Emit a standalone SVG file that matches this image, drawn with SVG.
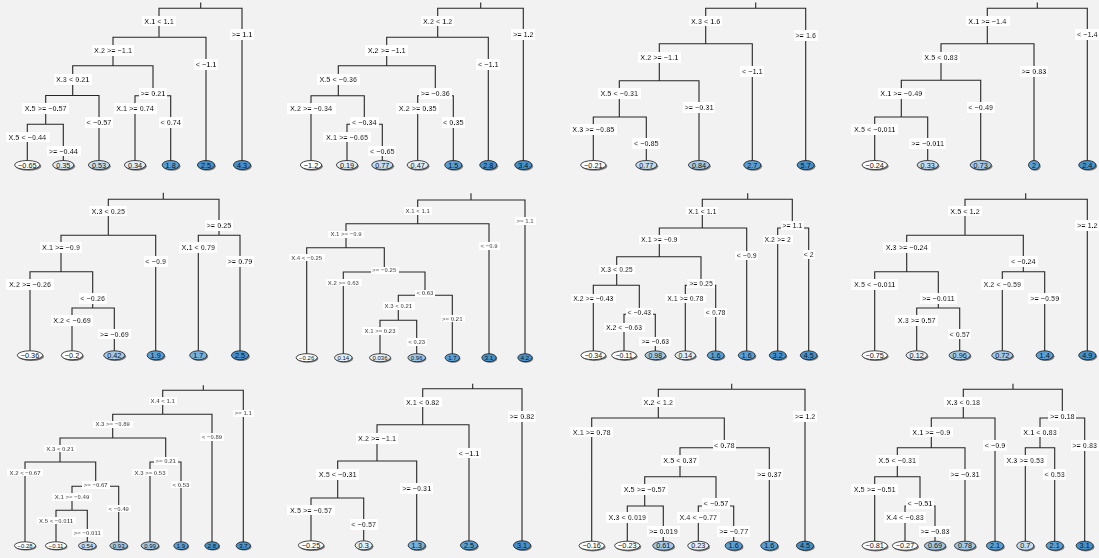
<svg xmlns="http://www.w3.org/2000/svg" width="1099" height="558" viewBox="0 0 1099 558">
<defs>
<filter id="bg" x="-0.05" y="-0.04" width="1.1" height="1.08"><feFlood flood-color="#fff"/><feComposite in="SourceGraphic"/></filter>
<style>
.e{fill:none;stroke:#262626;stroke-width:1.1}
.l{font-family:"Liberation Sans",Arial,sans-serif;font-weight:bold;font-size:7.3px;text-anchor:middle;dominant-baseline:central;fill:#111;filter:url(#bg)}
.s{font-size:6px}
.m{font-size:7px}
.sh{fill:#7a7a7a}
.k{stroke:#1a1a1a;stroke-width:.8}
.v{font-family:"Liberation Sans",Arial,sans-serif;font-size:7.3px;text-anchor:middle;dominant-baseline:central;fill:#111}
.vs{font-size:6px}
.vm{font-size:7px}
.w{fill:#fff}.a{fill:#e4eef7}.b{fill:#c6dcef}.c{fill:#a3c8e6}.d{fill:#78b0dc}.f{fill:#5a9fd4}.g{fill:#4690ca}
</style>
</defs>
<rect width="1099" height="558" fill="#f2f2f2"/>

<g id="connectors">
<path class="e" d="M200.7,2.5V8.3 M159,37.3V8.3H242V165 M113,65.7V37.3H206V165 M72.7,95.5V65.7H153V95.7 M45.7,124.3V95.5H99V165 M27.3,165V124.3H63.3V165 M135,165V95.7H170.7V165"/>
<path class="e" d="M480.7,2.5V8.3 M437.7,37.3V8.3H523.3V165 M386.7,65.7V37.3H488.3V165 M338.3,95.7V65.7H435.3V95.7 M311,165V95.7H364.3V124.3 M347,165V124.3H382.3V165 M417.7,165V95.7H453.3V165"/>
<path class="e" d="M755.7,2.5V8.3 M705.7,43.7V8.3H805.7V165 M659.3,80.7V43.7H752.3V165 M619.3,117V80.7H699V165 M593.3,165V117H646.3V165"/>
<path class="e" d="M1037.3,2.5V8.3 M987.3,43.7V8.3H1087.3V165 M941,80.3V43.7H1034V165 M901.3,117V80.3H980.7V165 M874.7,165V117H927.7V165"/>
<path class="e" d="M163.3,192.7V199.3 M108.3,235.3V199.3H219V235.3 M61,271.7V235.3H155.7V355.3 M198.3,355.3V235.3H240V355.3 M30,355.3V271.7H92.7V308 M72,355.3V308H114.3V355.3"/>
<path class="e" d="M471,193.3V200 M417.7,223.7V200H525V357.7 M346,247.7V223.7H489V357.7 M306.7,357.7V247.7H384.3V272 M343.3,357.7V272H425V295.3 M398.3,320.3V295.3H452.3V357.7 M380,357.7V320.3H416.7V357.7"/>
<path class="e" d="M747.7,193.3V199.3 M702.3,228V199.3H792.3V228 M659.3,256.7V228H746.7V355.3 M777.7,355.3V228H808.7V355.3 M616.7,285.3V256.7H701V285.3 M593.3,355.3V285.3H639.3V314.3 M624,355.3V314.3H655.3V355.3 M685.3,355.3V285.3H715.7V355.3"/>
<path class="e" d="M1025.7,193.3V199.3 M965,235.3V199.3H1087.3V355.3 M906.7,271.7V235.3H1023.3V271.7 M874.7,355.3V271.7H938.3V308 M916.7,355.3V308H959.7V355.3 M1002.3,355.3V271.7H1044.7V355.3"/>
<path class="e" d="M203.3,385.3V390.3 M162.7,414.3V390.3H243.3V545.7 M112.7,438V414.3H212V545.7 M60,462V438H165.7V462 M25,545.7V462H95.7V486.3 M72,510.3V486.3H118.7V545.7 M56,545.7V510.3H87.3V545.7 M150,545.7V462H181V545.7"/>
<path class="e" d="M472.7,383.7V388.7 M422.7,424.7V388.7H522V545.3 M377,461V424.7H469V545.3 M337.7,498V461H416.7V545.3 M311,545.3V498H363.7V545.3"/>
<path class="e" d="M731.7,383.7V389.3 M658.3,418V389.3H805V545.7 M591.7,545.7V418H724.3V447.7 M680,476.7V447.7H769.3V545.7 M644.7,506V476.7H716V506 M627.3,545.7V506H663.3V545.7 M698.3,545.7V506H733.7V545.7"/>
<path class="e" d="M1013,383.7V389.3 M963.3,418V389.3H1062.3V418 M931.3,447.7V418H995V545.7 M1040,447.7V418H1084.7V545.7 M897.3,476.7V447.7H965V545.7 M1025.3,545.7V447.7H1054.7V545.7 M874.7,545.7V476.7H920V506 M905,545.7V506H935V545.7"/>
</g>

<g id="t1-splits">
<text class="l" x="159" y="21">X.1 &lt; 1.1</text><text class="l" x="242" y="34.7">&gt;= 1.1</text>
<text class="l" x="113" y="50.7">X.2 &gt;= −1.1</text><text class="l" x="206" y="64.3">&lt; −1.1</text>
<text class="l" x="72.7" y="79.7">X.3 &lt; 0.21</text><text class="l" x="153" y="93.7">&gt;= 0.21</text>
<text class="l" x="45.7" y="108.7">X.5 &gt;= −0.57</text><text class="l" x="99" y="122.3">&lt; −0.57</text>
<text class="l" x="27.3" y="137">X.5 &lt; −0.44</text><text class="l" x="63.3" y="151">&gt;= −0.44</text>
<text class="l" x="135" y="108.7">X.1 &gt;= 0.74</text><text class="l" x="170.7" y="122.3">&lt; 0.74</text>
</g>
<g id="t1-leaves">
<g id="t1-l1" transform="translate(27.3,165)"><ellipse class="sh" cx="1.2" cy="1.2" rx="12.7" ry="4.5"/><ellipse class="k w" rx="12.7" ry="4.5"/><text class="v">−0.65</text></g>
<g id="t1-l2" transform="translate(63.3,165)"><ellipse class="sh" cx="1.2" cy="1.2" rx="10.6" ry="4.5"/><ellipse class="k a" rx="10.6" ry="4.5"/><text class="v">0.35</text></g>
<g id="t1-l3" transform="translate(99,165)"><ellipse class="sh" cx="1.2" cy="1.2" rx="10.6" ry="4.5"/><ellipse class="k b" rx="10.6" ry="4.5"/><text class="v">0.53</text></g>
<g id="t1-l4" transform="translate(135,165)"><ellipse class="sh" cx="1.2" cy="1.2" rx="10.6" ry="4.5"/><ellipse class="k a" rx="10.6" ry="4.5"/><text class="v">0.34</text></g>
<g id="t1-l5" transform="translate(170.7,165)"><ellipse class="sh" cx="1.2" cy="1.2" rx="8.6" ry="4.5"/><ellipse class="k f" rx="8.6" ry="4.5"/><text class="v">1.8</text></g>
<g id="t1-l6" transform="translate(206,165)"><ellipse class="sh" cx="1.2" cy="1.2" rx="8.6" ry="4.5"/><ellipse class="k g" rx="8.6" ry="4.5"/><text class="v">2.5</text></g>
<g id="t1-l7" transform="translate(242,165)"><ellipse class="sh" cx="1.2" cy="1.2" rx="8.6" ry="4.5"/><ellipse class="k g" rx="8.6" ry="4.5"/><text class="v">4.3</text></g>
</g>

<g id="t2-splits">
<text class="l" x="437.7" y="21">X.2 &lt; 1.2</text><text class="l" x="523.3" y="34.7">&gt;= 1.2</text>
<text class="l" x="386.7" y="50.7">X.2 &gt;= −1.1</text><text class="l" x="488.3" y="64.3">&lt; −1.1</text>
<text class="l" x="338.3" y="79.7">X.5 &lt; −0.36</text><text class="l" x="435.3" y="93.7">&gt;= −0.36</text>
<text class="l" x="311" y="108.7">X.2 &gt;= −0.34</text><text class="l" x="364.3" y="122.3">&lt; −0.34</text>
<text class="l" x="347" y="137">X.1 &gt;= −0.65</text><text class="l" x="382.3" y="151">&lt; −0.65</text>
<text class="l" x="417.7" y="108.7">X.2 &gt;= 0.35</text><text class="l" x="453.3" y="122.3">&lt; 0.35</text>
</g>
<g id="t2-leaves">
<g id="t2-l1" transform="translate(311,165)"><ellipse class="sh" cx="1.2" cy="1.2" rx="10.7" ry="4.5"/><ellipse class="k w" rx="10.7" ry="4.5"/><text class="v">−1.2</text></g>
<g id="t2-l2" transform="translate(347,165)"><ellipse class="sh" cx="1.2" cy="1.2" rx="10.6" ry="4.5"/><ellipse class="k a" rx="10.6" ry="4.5"/><text class="v">0.19</text></g>
<g id="t2-l3" transform="translate(382.3,165)"><ellipse class="sh" cx="1.2" cy="1.2" rx="10.6" ry="4.5"/><ellipse class="k b" rx="10.6" ry="4.5"/><text class="v">0.77</text></g>
<g id="t2-l4" transform="translate(417.7,165)"><ellipse class="sh" cx="1.2" cy="1.2" rx="10.6" ry="4.5"/><ellipse class="k a" rx="10.6" ry="4.5"/><text class="v">0.47</text></g>
<g id="t2-l5" transform="translate(453.3,165)"><ellipse class="sh" cx="1.2" cy="1.2" rx="8.6" ry="4.5"/><ellipse class="k f" rx="8.6" ry="4.5"/><text class="v">1.5</text></g>
<g id="t2-l6" transform="translate(488.3,165)"><ellipse class="sh" cx="1.2" cy="1.2" rx="8.6" ry="4.5"/><ellipse class="k g" rx="8.6" ry="4.5"/><text class="v">2.8</text></g>
<g id="t2-l7" transform="translate(523.3,165)"><ellipse class="sh" cx="1.2" cy="1.2" rx="8.6" ry="4.5"/><ellipse class="k g" rx="8.6" ry="4.5"/><text class="v">3.4</text></g>
</g>

<g id="t3-splits">
<text class="l" x="705.7" y="21">X.3 &lt; 1.6</text><text class="l" x="805.7" y="35.7">&gt;= 1.6</text>
<text class="l" x="659.3" y="57.3">X.2 &gt;= −1.1</text><text class="l" x="752.3" y="71.7">&lt; −1.1</text>
<text class="l" x="619.3" y="93.3">X.5 &lt; −0.31</text><text class="l" x="699" y="107.7">&gt;= −0.31</text>
<text class="l" x="593.3" y="129.3">X.3 &gt;= −0.85</text><text class="l" x="646.3" y="143.7">&lt; −0.85</text>
</g>
<g id="t3-leaves">
<g id="t3-l1" transform="translate(593.3,165)"><ellipse class="sh" cx="1.2" cy="1.2" rx="12.7" ry="4.5"/><ellipse class="k w" rx="12.7" ry="4.5"/><text class="v">−0.21</text></g>
<g id="t3-l2" transform="translate(646.3,165)"><ellipse class="sh" cx="1.2" cy="1.2" rx="10.6" ry="4.5"/><ellipse class="k b" rx="10.6" ry="4.5"/><text class="v">0.77</text></g>
<g id="t3-l3" transform="translate(699,165)"><ellipse class="sh" cx="1.2" cy="1.2" rx="10.6" ry="4.5"/><ellipse class="k c" rx="10.6" ry="4.5"/><text class="v">0.84</text></g>
<g id="t3-l4" transform="translate(752.3,165)"><ellipse class="sh" cx="1.2" cy="1.2" rx="8.6" ry="4.5"/><ellipse class="k f" rx="8.6" ry="4.5"/><text class="v">2.7</text></g>
<g id="t3-l5" transform="translate(805.7,165)"><ellipse class="sh" cx="1.2" cy="1.2" rx="8.6" ry="4.5"/><ellipse class="k g" rx="8.6" ry="4.5"/><text class="v">5.7</text></g>
</g>

<g id="t4-splits">
<text class="l" x="987.3" y="21">X.1 &gt;= −1.4</text><text class="l" x="1087.3" y="34.7">&lt; −1.4</text>
<text class="l" x="941" y="57.3">X.5 &lt; 0.83</text><text class="l" x="1034" y="71.3">&gt;= 0.83</text>
<text class="l" x="901.3" y="93.3">X.1 &gt;= −0.49</text><text class="l" x="980.7" y="107.3">&lt; −0.49</text>
<text class="l" x="874.7" y="129.3">X.5 &lt; −0.011</text><text class="l" x="927.7" y="143.7">&gt;= −0.011</text>
</g>
<g id="t4-leaves">
<g id="t4-l1" transform="translate(874.7,165)"><ellipse class="sh" cx="1.2" cy="1.2" rx="12.7" ry="4.5"/><ellipse class="k w" rx="12.7" ry="4.5"/><text class="v">−0.24</text></g>
<g id="t4-l2" transform="translate(927.7,165)"><ellipse class="sh" cx="1.2" cy="1.2" rx="10.6" ry="4.5"/><ellipse class="k b" rx="10.6" ry="4.5"/><text class="v">0.33</text></g>
<g id="t4-l3" transform="translate(980.7,165)"><ellipse class="sh" cx="1.2" cy="1.2" rx="10.6" ry="4.5"/><ellipse class="k c" rx="10.6" ry="4.5"/><text class="v">0.73</text></g>
<g id="t4-l4" transform="translate(1034,165)"><ellipse class="sh" cx="1.2" cy="1.2" rx="5.5" ry="4.5"/><ellipse class="k f" rx="5.5" ry="4.5"/><text class="v">2</text></g>
<g id="t4-l5" transform="translate(1087.3,165)"><ellipse class="sh" cx="1.2" cy="1.2" rx="8.6" ry="4.5"/><ellipse class="k g" rx="8.6" ry="4.5"/><text class="v">2.4</text></g>
</g>

<g id="t5-splits">
<text class="l" x="108.3" y="211">X.3 &lt; 0.25</text><text class="l" x="219" y="225.3">&gt;= 0.25</text>
<text class="l" x="61" y="247.3">X.1 &gt;= −0.9</text><text class="l" x="155.7" y="261.3">&lt; −0.9</text>
<text class="l" x="198.3" y="247.3">X.1 &lt; 0.79</text><text class="l" x="240" y="261.3">&gt;= 0.79</text>
<text class="l" x="30" y="284.7">X.2 &gt;= −0.26</text><text class="l" x="92.7" y="298.3">&lt; −0.26</text>
<text class="l" x="72" y="320.7">X.2 &lt; −0.69</text><text class="l" x="114.3" y="334">&gt;= −0.69</text>
</g>
<g id="t5-leaves">
<g id="t5-l1" transform="translate(30,355.3)"><ellipse class="sh" cx="1.2" cy="1.2" rx="12.7" ry="4.5"/><ellipse class="k w" rx="12.7" ry="4.5"/><text class="v">−0.36</text></g>
<g id="t5-l2" transform="translate(72,355.3)"><ellipse class="sh" cx="1.2" cy="1.2" rx="10.7" ry="4.5"/><ellipse class="k w" rx="10.7" ry="4.5"/><text class="v">−0.2</text></g>
<g id="t5-l3" transform="translate(114.3,355.3)"><ellipse class="sh" cx="1.2" cy="1.2" rx="10.6" ry="4.5"/><ellipse class="k c" rx="10.6" ry="4.5"/><text class="v">0.42</text></g>
<g id="t5-l4" transform="translate(155.7,355.3)"><ellipse class="sh" cx="1.2" cy="1.2" rx="8.6" ry="4.5"/><ellipse class="k f" rx="8.6" ry="4.5"/><text class="v">1.9</text></g>
<g id="t5-l5" transform="translate(198.3,355.3)"><ellipse class="sh" cx="1.2" cy="1.2" rx="8.6" ry="4.5"/><ellipse class="k d" rx="8.6" ry="4.5"/><text class="v">1.7</text></g>
<g id="t5-l6" transform="translate(240,355.3)"><ellipse class="sh" cx="1.2" cy="1.2" rx="8.6" ry="4.5"/><ellipse class="k g" rx="8.6" ry="4.5"/><text class="v">2.5</text></g>
</g>

<g id="t6-splits">
<text class="l s" x="417.7" y="211">X.1 &lt; 1.1</text><text class="l s" x="525" y="221">&gt;= 1.1</text>
<text class="l s" x="346" y="234.3">X.1 &gt;= −0.9</text><text class="l s" x="489" y="246">&lt; −0.9</text>
<text class="l s" x="306.7" y="257.7">X.4 &lt; −0.25</text><text class="l s" x="384.3" y="270.3">&gt;= −0.25</text>
<text class="l s" x="343.3" y="282.7">X.2 &gt;= 0.63</text><text class="l s" x="425" y="293.3">&lt; 0.63</text>
<text class="l s" x="398.3" y="306">X.3 &lt; 0.21</text><text class="l s" x="452.3" y="318.7">&gt;= 0.21</text>
<text class="l s" x="380" y="331">X.1 &gt;= 0.23</text><text class="l s" x="416.7" y="342">&lt; 0.23</text>
</g>
<g id="t6-leaves">
<g id="t6-l1" transform="translate(306.7,357.7)"><ellipse class="sh" cx="1" cy="1" rx="10.6" ry="4"/><ellipse class="k w" rx="10.6" ry="4"/><text class="v vs">−0.26</text></g>
<g id="t6-l2" transform="translate(343.3,357.7)"><ellipse class="sh" cx="1" cy="1" rx="8.8" ry="4"/><ellipse class="k a" rx="8.8" ry="4"/><text class="v vs">0.14</text></g>
<g id="t6-l3" transform="translate(380,357.7)"><ellipse class="sh" cx="1" cy="1" rx="10.5" ry="4"/><ellipse class="k a" rx="10.5" ry="4"/><text class="v vs">0.036</text></g>
<g id="t6-l4" transform="translate(416.7,357.7)"><ellipse class="sh" cx="1" cy="1" rx="8.8" ry="4"/><ellipse class="k c" rx="8.8" ry="4"/><text class="v vs">0.96</text></g>
<g id="t6-l5" transform="translate(452.3,357.7)"><ellipse class="sh" cx="1" cy="1" rx="7.2" ry="4"/><ellipse class="k f" rx="7.2" ry="4"/><text class="v vs">1.7</text></g>
<g id="t6-l6" transform="translate(489,357.7)"><ellipse class="sh" cx="1" cy="1" rx="7.2" ry="4"/><ellipse class="k g" rx="7.2" ry="4"/><text class="v vs">3.1</text></g>
<g id="t6-l7" transform="translate(525,357.7)"><ellipse class="sh" cx="1" cy="1" rx="7.2" ry="4"/><ellipse class="k g" rx="7.2" ry="4"/><text class="v vs">4.2</text></g>
</g>

<g id="t7-splits">
<text class="l m" x="702.3" y="211">X.1 &lt; 1.1</text><text class="l m" x="792.3" y="225.3">&gt;= 1.1</text>
<text class="l m" x="659.3" y="239.3">X.1 &gt;= −0.9</text><text class="l m" x="746.7" y="255.3">&lt; −0.9</text>
<text class="l m" x="777.7" y="239.3">X.2 &gt;= 2</text><text class="l m" x="808.7" y="254.3">&lt; 2</text>
<text class="l m" x="616.7" y="269.3">X.3 &lt; 0.25</text><text class="l m" x="701" y="283.7">&gt;= 0.25</text>
<text class="l m" x="593.3" y="298.3">X.2 &gt;= −0.43</text><text class="l m" x="639.3" y="312.7">&lt; −0.43</text>
<text class="l m" x="624" y="327.3">X.2 &lt; −0.63</text><text class="l m" x="655.3" y="341.7">&gt;= −0.63</text>
<text class="l m" x="685.3" y="298.3">X.1 &gt;= 0.78</text><text class="l m" x="715.7" y="312.7">&lt; 0.78</text>
</g>
<g id="t7-leaves">
<g id="t7-l1" transform="translate(593.3,355.3)"><ellipse class="sh" cx="1.2" cy="1.2" rx="12.4" ry="4.4"/><ellipse class="k w" rx="12.4" ry="4.4"/><text class="v vm">−0.34</text></g>
<g id="t7-l2" transform="translate(624,355.3)"><ellipse class="sh" cx="1.2" cy="1.2" rx="12.4" ry="4.4"/><ellipse class="k w" rx="12.4" ry="4.4"/><text class="v vm">−0.11</text></g>
<g id="t7-l3" transform="translate(655.3,355.3)"><ellipse class="sh" cx="1.2" cy="1.2" rx="10.3" ry="4.4"/><ellipse class="k c" rx="10.3" ry="4.4"/><text class="v vm">0.98</text></g>
<g id="t7-l4" transform="translate(685.3,355.3)"><ellipse class="sh" cx="1.2" cy="1.2" rx="10.3" ry="4.4"/><ellipse class="k a" rx="10.3" ry="4.4"/><text class="v vm">0.14</text></g>
<g id="t7-l5" transform="translate(715.7,355.3)"><ellipse class="sh" cx="1.2" cy="1.2" rx="8.4" ry="4.4"/><ellipse class="k f" rx="8.4" ry="4.4"/><text class="v vm">1.6</text></g>
<g id="t7-l6" transform="translate(746.7,355.3)"><ellipse class="sh" cx="1.2" cy="1.2" rx="8.4" ry="4.4"/><ellipse class="k f" rx="8.4" ry="4.4"/><text class="v vm">1.6</text></g>
<g id="t7-l7" transform="translate(777.7,355.3)"><ellipse class="sh" cx="1.2" cy="1.2" rx="8.4" ry="4.4"/><ellipse class="k g" rx="8.4" ry="4.4"/><text class="v vm">3.2</text></g>
<g id="t7-l8" transform="translate(808.7,355.3)"><ellipse class="sh" cx="1.2" cy="1.2" rx="8.4" ry="4.4"/><ellipse class="k g" rx="8.4" ry="4.4"/><text class="v vm">4.5</text></g>
</g>

<g id="t8-splits">
<text class="l" x="965" y="211">X.5 &lt; 1.2</text><text class="l" x="1087.3" y="225.3">&gt;= 1.2</text>
<text class="l" x="906.7" y="247.3">X.3 &gt;= −0.24</text><text class="l" x="1023.3" y="261.3">&lt; −0.24</text>
<text class="l" x="874.7" y="284.7">X.5 &lt; −0.011</text><text class="l" x="938.3" y="298.3">&gt;= −0.011</text>
<text class="l" x="916.7" y="320.7">X.3 &gt;= 0.57</text><text class="l" x="959.7" y="334">&lt; 0.57</text>
<text class="l" x="1002.3" y="284.7">X.2 &lt; −0.59</text><text class="l" x="1044.7" y="298.3">&gt;= −0.59</text>
</g>
<g id="t8-leaves">
<g id="t8-l1" transform="translate(874.7,355.3)"><ellipse class="sh" cx="1.2" cy="1.2" rx="12.7" ry="4.5"/><ellipse class="k w" rx="12.7" ry="4.5"/><text class="v">−0.75</text></g>
<g id="t8-l2" transform="translate(916.7,355.3)"><ellipse class="sh" cx="1.2" cy="1.2" rx="10.6" ry="4.5"/><ellipse class="k a" rx="10.6" ry="4.5"/><text class="v">0.12</text></g>
<g id="t8-l3" transform="translate(959.7,355.3)"><ellipse class="sh" cx="1.2" cy="1.2" rx="10.6" ry="4.5"/><ellipse class="k c" rx="10.6" ry="4.5"/><text class="v">0.96</text></g>
<g id="t8-l4" transform="translate(1002.3,355.3)"><ellipse class="sh" cx="1.2" cy="1.2" rx="10.6" ry="4.5"/><ellipse class="k c" rx="10.6" ry="4.5"/><text class="v">0.72</text></g>
<g id="t8-l5" transform="translate(1044.7,355.3)"><ellipse class="sh" cx="1.2" cy="1.2" rx="8.6" ry="4.5"/><ellipse class="k f" rx="8.6" ry="4.5"/><text class="v">1.4</text></g>
<g id="t8-l6" transform="translate(1087.3,355.3)"><ellipse class="sh" cx="1.2" cy="1.2" rx="8.6" ry="4.5"/><ellipse class="k g" rx="8.6" ry="4.5"/><text class="v">4.9</text></g>
</g>

<g id="t9-splits">
<text class="l s" x="162.7" y="401">X.4 &lt; 1.1</text><text class="l s" x="243.3" y="413.3">&gt;= 1.1</text>
<text class="l s" x="112.7" y="424.3">X.3 &gt;= −0.89</text><text class="l s" x="212" y="437">&lt; −0.89</text>
<text class="l s" x="60" y="448.7">X.3 &lt; 0.21</text><text class="l s" x="165.7" y="461">&gt;= 0.21</text>
<text class="l s" x="25" y="472.7">X.2 &lt; −0.67</text><text class="l s" x="95.7" y="485">&gt;= −0.67</text>
<text class="l s" x="72" y="497">X.1 &gt;= −0.49</text><text class="l s" x="118.7" y="508.7">&lt; −0.49</text>
<text class="l s" x="56" y="520.7">X.5 &lt; −0.011</text><text class="l s" x="87.3" y="533">&gt;= −0.011</text>
<text class="l s" x="150" y="472.7">X.3 &gt;= 0.53</text><text class="l s" x="181" y="484.7">&lt; 0.53</text>
</g>
<g id="t9-leaves">
<g id="t9-l1" transform="translate(25,545.7)"><ellipse class="sh" cx="1" cy="1" rx="10.6" ry="3.9"/><ellipse class="k w" rx="10.6" ry="3.9"/><text class="v vs">−0.28</text></g>
<g id="t9-l2" transform="translate(56,545.7)"><ellipse class="sh" cx="1" cy="1" rx="10.6" ry="3.9"/><ellipse class="k w" rx="10.6" ry="3.9"/><text class="v vs">−0.11</text></g>
<g id="t9-l3" transform="translate(87.3,545.7)"><ellipse class="sh" cx="1" cy="1" rx="8.8" ry="3.9"/><ellipse class="k b" rx="8.8" ry="3.9"/><text class="v vs">0.54</text></g>
<g id="t9-l4" transform="translate(118.7,545.7)"><ellipse class="sh" cx="1" cy="1" rx="8.8" ry="3.9"/><ellipse class="k c" rx="8.8" ry="3.9"/><text class="v vs">0.93</text></g>
<g id="t9-l5" transform="translate(150,545.7)"><ellipse class="sh" cx="1" cy="1" rx="8.8" ry="3.9"/><ellipse class="k c" rx="8.8" ry="3.9"/><text class="v vs">0.99</text></g>
<g id="t9-l6" transform="translate(181,545.7)"><ellipse class="sh" cx="1" cy="1" rx="7.2" ry="3.9"/><ellipse class="k f" rx="7.2" ry="3.9"/><text class="v vs">1.9</text></g>
<g id="t9-l7" transform="translate(212,545.7)"><ellipse class="sh" cx="1" cy="1" rx="7.2" ry="3.9"/><ellipse class="k g" rx="7.2" ry="3.9"/><text class="v vs">2.8</text></g>
<g id="t9-l8" transform="translate(243.3,545.7)"><ellipse class="sh" cx="1" cy="1" rx="7.2" ry="3.9"/><ellipse class="k g" rx="7.2" ry="3.9"/><text class="v vs">3.7</text></g>
</g>

<g id="t10-splits">
<text class="l" x="422.7" y="402">X.1 &lt; 0.82</text><text class="l" x="522" y="416.3">&gt;= 0.82</text>
<text class="l" x="377" y="438.3">X.2 &gt;= −1.1</text><text class="l" x="469" y="453">&lt; −1.1</text>
<text class="l" x="337.7" y="474.3">X.5 &lt; −0.31</text><text class="l" x="416.7" y="488.7">&gt;= −0.31</text>
<text class="l" x="311" y="510">X.5 &gt;= −0.57</text><text class="l" x="363.7" y="524.7">&lt; −0.57</text>
</g>
<g id="t10-leaves">
<g id="t10-l1" transform="translate(311,545.3)"><ellipse class="sh" cx="1.2" cy="1.2" rx="12.7" ry="4.5"/><ellipse class="k w" rx="12.7" ry="4.5"/><text class="v">−0.25</text></g>
<g id="t10-l2" transform="translate(363.7,545.3)"><ellipse class="sh" cx="1.2" cy="1.2" rx="8.6" ry="4.5"/><ellipse class="k a" rx="8.6" ry="4.5"/><text class="v">0.3</text></g>
<g id="t10-l3" transform="translate(416.7,545.3)"><ellipse class="sh" cx="1.2" cy="1.2" rx="8.6" ry="4.5"/><ellipse class="k d" rx="8.6" ry="4.5"/><text class="v">1.3</text></g>
<g id="t10-l4" transform="translate(469,545.3)"><ellipse class="sh" cx="1.2" cy="1.2" rx="8.6" ry="4.5"/><ellipse class="k f" rx="8.6" ry="4.5"/><text class="v">2.5</text></g>
<g id="t10-l5" transform="translate(522,545.3)"><ellipse class="sh" cx="1.2" cy="1.2" rx="8.6" ry="4.5"/><ellipse class="k g" rx="8.6" ry="4.5"/><text class="v">3.1</text></g>
</g>

<g id="t11-splits">
<text class="l" x="658.3" y="402">X.2 &lt; 1.2</text><text class="l" x="805" y="416.3">&gt;= 1.2</text>
<text class="l" x="591.7" y="432">X.1 &gt;= 0.78</text><text class="l" x="724.3" y="445.3">&lt; 0.78</text>
<text class="l" x="680" y="460.7">X.5 &lt; 0.37</text><text class="l" x="769.3" y="474.7">&gt;= 0.37</text>
<text class="l" x="644.7" y="489.3">X.5 &gt;= −0.57</text><text class="l" x="716" y="503.3">&lt; −0.57</text>
<text class="l" x="627.3" y="517.3">X.3 &lt; 0.019</text><text class="l" x="663.3" y="531.3">&gt;= 0.019</text>
<text class="l" x="698.3" y="517.3">X.4 &lt; −0.77</text><text class="l" x="733.7" y="531.3">&gt;= −0.77</text>
</g>
<g id="t11-leaves">
<g id="t11-l1" transform="translate(591.7,545.7)"><ellipse class="sh" cx="1.2" cy="1.2" rx="12.7" ry="4.5"/><ellipse class="k w" rx="12.7" ry="4.5"/><text class="v">−0.16</text></g>
<g id="t11-l2" transform="translate(627.3,545.7)"><ellipse class="sh" cx="1.2" cy="1.2" rx="12.7" ry="4.5"/><ellipse class="k w" rx="12.7" ry="4.5"/><text class="v">−0.23</text></g>
<g id="t11-l3" transform="translate(663.3,545.7)"><ellipse class="sh" cx="1.2" cy="1.2" rx="10.6" ry="4.5"/><ellipse class="k c" rx="10.6" ry="4.5"/><text class="v">0.61</text></g>
<g id="t11-l4" transform="translate(698.3,545.7)"><ellipse class="sh" cx="1.2" cy="1.2" rx="10.6" ry="4.5"/><ellipse class="k a" rx="10.6" ry="4.5"/><text class="v">0.23</text></g>
<g id="t11-l5" transform="translate(733.7,545.7)"><ellipse class="sh" cx="1.2" cy="1.2" rx="8.6" ry="4.5"/><ellipse class="k f" rx="8.6" ry="4.5"/><text class="v">1.6</text></g>
<g id="t11-l6" transform="translate(769.3,545.7)"><ellipse class="sh" cx="1.2" cy="1.2" rx="8.6" ry="4.5"/><ellipse class="k f" rx="8.6" ry="4.5"/><text class="v">1.6</text></g>
<g id="t11-l7" transform="translate(805,545.7)"><ellipse class="sh" cx="1.2" cy="1.2" rx="8.6" ry="4.5"/><ellipse class="k g" rx="8.6" ry="4.5"/><text class="v">4.5</text></g>
</g>

<g id="t12-splits">
<text class="l" x="963.3" y="402">X.3 &lt; 0.18</text><text class="l" x="1062.3" y="416">&gt;= 0.18</text>
<text class="l" x="931.3" y="432">X.1 &gt;= −0.9</text><text class="l" x="995" y="445.3">&lt; −0.9</text>
<text class="l" x="1040" y="432">X.1 &lt; 0.83</text><text class="l" x="1084.7" y="445.3">&gt;= 0.83</text>
<text class="l" x="897.3" y="460.7">X.5 &lt; −0.31</text><text class="l" x="965" y="474.7">&gt;= −0.31</text>
<text class="l" x="1025.3" y="460.7">X.3 &gt;= 0.53</text><text class="l" x="1054.7" y="474.7">&lt; 0.53</text>
<text class="l" x="874.7" y="489.3">X.5 &gt;= −0.51</text><text class="l" x="920" y="503.3">&lt; −0.51</text>
<text class="l" x="905" y="517.3">X.4 &lt; −0.83</text><text class="l" x="935" y="531.3">&gt;= −0.83</text>
</g>
<g id="t12-leaves">
<g id="t12-l1" transform="translate(874.7,545.7)"><ellipse class="sh" cx="1.2" cy="1.2" rx="12.7" ry="4.5"/><ellipse class="k w" rx="12.7" ry="4.5"/><text class="v">−0.81</text></g>
<g id="t12-l2" transform="translate(905,545.7)"><ellipse class="sh" cx="1.2" cy="1.2" rx="12.7" ry="4.5"/><ellipse class="k w" rx="12.7" ry="4.5"/><text class="v">−0.27</text></g>
<g id="t12-l3" transform="translate(935,545.7)"><ellipse class="sh" cx="1.2" cy="1.2" rx="10.6" ry="4.5"/><ellipse class="k c" rx="10.6" ry="4.5"/><text class="v">0.69</text></g>
<g id="t12-l4" transform="translate(965,545.7)"><ellipse class="sh" cx="1.2" cy="1.2" rx="10.6" ry="4.5"/><ellipse class="k c" rx="10.6" ry="4.5"/><text class="v">0.78</text></g>
<g id="t12-l5" transform="translate(995,545.7)"><ellipse class="sh" cx="1.2" cy="1.2" rx="8.6" ry="4.5"/><ellipse class="k f" rx="8.6" ry="4.5"/><text class="v">2.1</text></g>
<g id="t12-l6" transform="translate(1025.3,545.7)"><ellipse class="sh" cx="1.2" cy="1.2" rx="8.6" ry="4.5"/><ellipse class="k b" rx="8.6" ry="4.5"/><text class="v">0.7</text></g>
<g id="t12-l7" transform="translate(1054.7,545.7)"><ellipse class="sh" cx="1.2" cy="1.2" rx="8.6" ry="4.5"/><ellipse class="k f" rx="8.6" ry="4.5"/><text class="v">2.1</text></g>
<g id="t12-l8" transform="translate(1084.7,545.7)"><ellipse class="sh" cx="1.2" cy="1.2" rx="8.6" ry="4.5"/><ellipse class="k g" rx="8.6" ry="4.5"/><text class="v">3.1</text></g>
</g>
</svg>
